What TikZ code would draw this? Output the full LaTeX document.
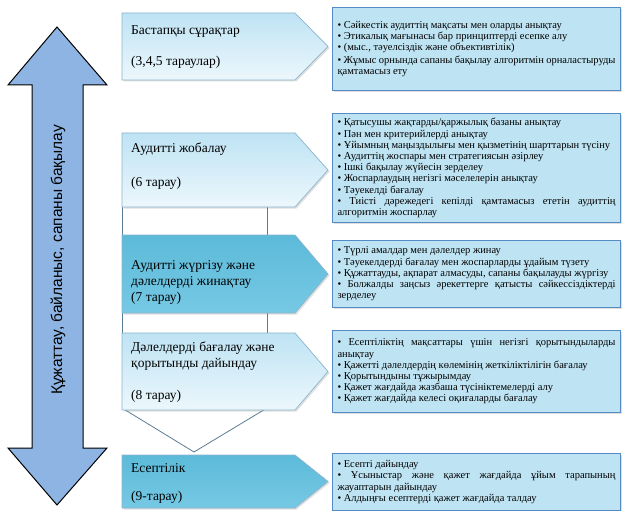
\documentclass[tikz,border=0pt]{standalone}
\usepackage{fontspec}
\setmainfont{Liberation Serif}
\newfontfamily\arrowfont{Liberation Sans}
\usetikzlibrary{shadows}
\definecolor{paletop}{RGB}{190,227,244}
\definecolor{palebot}{RGB}{236,247,252}
\definecolor{strongtop}{RGB}{92,186,217}
\definecolor{strongbot}{RGB}{118,201,228}
\definecolor{leftline}{RGB}{140,180,205}
\definecolor{connline}{RGB}{90,125,150}
\definecolor{rfill}{RGB}{190,227,243}
\definecolor{rline}{RGB}{84,138,198}
\definecolor{bigarrow}{RGB}{141,180,226}
\tikzset{
  softshadow/.style={drop shadow={opacity=0.25, shadow xshift=1.5pt, shadow yshift=-1.5pt}},
  palebox/.style={draw=leftline, line width=0.7pt, top color=paletop, bottom color=palebot, softshadow},
  strongbox/.style={draw=leftline, line width=0.7pt, top color=strongtop, bottom color=strongbot, softshadow},
  connbox/.style={draw=connline, line width=0.8pt, fill=white},
  rbox/.style={draw=rline, line width=1pt, fill=rfill, softshadow, text width=278pt, inner xsep=5pt, inner ysep=3pt, align=justify, font=\fontsize{10.5}{11.2}\selectfont, anchor=north west},
  ltext/.style={anchor=west, inner sep=0pt, font=\fontsize{13.5}{15}\selectfont},
}
\begin{document}
\begin{tikzpicture}[x=1pt,y=-1pt]
\useasboundingbox (0,0) rectangle (625,511);
% big double arrow
\draw[fill=bigarrow, line width=1pt, line join=miter] (57,27) -- (107,85) -- (83,85) -- (83,448) -- (107,448) -- (57,505) -- (8,448) -- (32,448) -- (32,85) -- (8,85) -- cycle;
\node[rotate=90, font=\arrowfont\fontsize{15.5}{18}\selectfont] (arrowlbl) at (58,260) {Құжаттау, байланыс, сапаны бақылау};
% connectors
\draw[connbox] (122,205) rectangle (267,236);
\draw[connbox] (122,311) rectangle (267,334);
\draw[connbox] (122,408) -- (194,452) -- (267,408);
% left boxes
\path[palebox] (122,13) -- (295,13) -- (328,46.5) -- (295,80) -- (122,80) -- cycle;
\path[palebox] (122,133) -- (295,133) -- (328,170) -- (295,207) -- (122,207) -- cycle;
\path[strongbox] (122,235) -- (295,235) -- (328,274) -- (295,313) -- (122,313) -- cycle;
\path[palebox] (122,333) -- (295,333) -- (328,371.5) -- (295,410) -- (122,410) -- cycle;
\path[strongbox] (122,455) -- (295,455) -- (328,481.5) -- (295,508) -- (122,508) -- cycle;
% left texts
\node[ltext] (t1a) at (131,32) {Бастапқы сұрақтар};
\node[ltext] (t1b) at (131,62) {(3,4,5 тараулар)};
\node[ltext] (t2a) at (131,149) {Аудитті жобалау};
\node[ltext] (t2b) at (131,183) {(6 тарау)};
\node[ltext] (t3a) at (131,266) {Аудитті жүргізу және};
\node[ltext] (t3b) at (131,282) {дәлелдерді жинақтау};
\node[ltext] (t3c) at (131,298) {(7 тарау)};
\node[ltext] (t4a) at (131,348) {Дәлелдерді бағалау және};
\node[ltext] (t4b) at (131,364) {қорытынды дайындау};
\node[ltext] (t4c) at (131,396) {(8 тарау)};
\node[ltext] (t5a) at (131,468) {Есептілік};
\node[ltext] (t5b) at (131,497) {(9-тарау)};
% right boxes
\node[rbox, minimum height=83pt] (r1) at (332,7) {%
• Сәйкестік аудиттің мақсаты мен оларды анықтау\par
• Этикалық мағынасы бар принциптерді есепке алу\par
• (мыс., тәуелсіздік және объективтілік)\par\vspace{2pt}
• Жұмыс орнында сапаны бақылау алгоритмін орналастыруды қамтамасыз ету};
\node[rbox, minimum height=109pt] (r2) at (332,113) {%
• Қатысушы жақтарды/қаржылық базаны анықтау\par
• Пән мен критерийлерді анықтау\par
• Ұйымның маңыздылығы мен қызметінің шарттарын түсіну\par
• Аудиттің жоспары мен стратегиясын әзірлеу\par
• Ішкі бақылау жүйесін зерделеу\par
• Жоспарлаудың негізгі мәселелерін анықтау\par
• Тәуекелді бағалау\par
• Тиісті дәрежедегі кепілді қамтамасыз ететін аудиттің алгоритмін жоспарлау};
\node[rbox, minimum height=67pt] (r3) at (332,240) {%
• Түрлі амалдар мен дәлелдер жинау\par
• Тәуекелдерді бағалау мен жоспарларды ұдайым түзету\par
• Құжаттауды, ақпарат алмасуды, сапаны бақылауды жүргізу\par
• Болжалды заңсыз әрекеттерге қатысты сәйкессіздіктерді зерделеу};
\node[rbox, minimum height=82pt] (r4) at (332,330) {%
• Есептіліктің мақсаттары үшін негізгі қорытындыларды анықтау\par
• Қажетті дәлелдердің көлемінің жеткіліктілігін бағалау\par
• Қорытындыны тұжырымдау\par
• Қажет жағдайда жазбаша түсініктемелерді алу\par
• Қажет жағдайда келесі оқиғаларды бағалау};
\node[rbox, minimum height=57pt] (r5) at (332,453) {%
• Есепті дайындау\par
• Ұсыныстар және қажет жағдайда ұйым тарапының жауаптарын дайындау\par
• Алдыңғы есептерді қажет жағдайда талдау};
\end{tikzpicture}
\end{document}
